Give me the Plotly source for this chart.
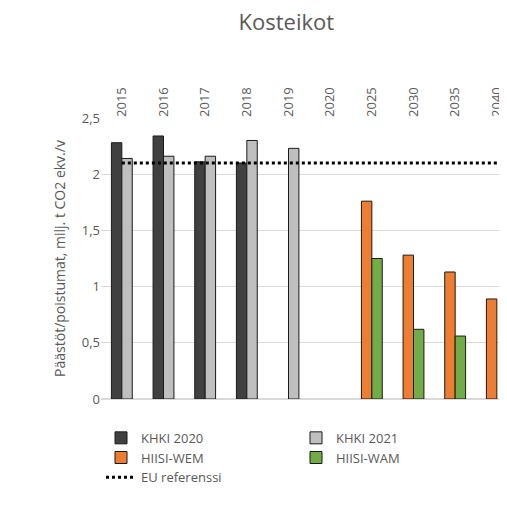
import plotly.graph_objects as go

years = ["2015","2016","2017","2018","2019","2020","2025","2030","2035","2040"]
khki2020 = [2.28, 2.34, 2.11, 2.10, None, None, None, None, None, None]
khki2021 = [2.14, 2.16, 2.16, 2.30, 2.23, None, None, None, None, None]
wem = [None, None, None, None, None, None, 1.76, 1.28, 1.13, 0.89]
wam = [None, None, None, None, None, None, 1.25, 0.62, 0.56, None]
eu_ref = [2.10]*10

fig = go.Figure()
line = dict(color="#1a1a1a", width=1)
fig.add_bar(x=years, y=khki2020, name="KHKI 2020", marker=dict(color="#404040", line=line), offsetgroup="a", legend="legend")
fig.add_bar(x=years, y=khki2021, name="KHKI 2021", marker=dict(color="#bfbfbf", line=line), offsetgroup="b", legend="legend")
fig.add_bar(x=years, y=wem, name="HIISI-WEM", marker=dict(color="#ed7d31", line=line), offsetgroup="a", legend="legend2")
fig.add_bar(x=years, y=wam, name="HIISI-WAM", marker=dict(color="#70ad47", line=line), offsetgroup="b", legend="legend2")
fig.add_scatter(x=years, y=eu_ref, mode="lines", name="EU referenssi", legend="legend3",
                line=dict(color="black", width=3, dash="dot"))

leg = dict(orientation="h", x=0.0, xanchor="left", yanchor="top",
           entrywidth=150, font=dict(size=13), traceorder="normal",
           bgcolor="rgba(0,0,0,0)", tracegroupgap=0)
fig.update_layout(
    width=497, height=515, barmode="group", bargap=0.5,
    margin=dict(l=93, r=0, t=110, b=124),
    paper_bgcolor="white", plot_bgcolor="white",
    font=dict(family="Open Sans", color="#595959", size=13),
    separators=", ",
    title=dict(text="Kosteikot", x=0.56, xanchor="center", y=0.972, yanchor="middle",
               font=dict(size=22, color="#595959")),
    xaxis=dict(type="category", side="top", tickangle=-90, range=[-0.5, 9.1],
               showgrid=False, showline=False, ticks="", tickfont=dict(size=13)),
    yaxis=dict(range=[0, 2.5], dtick=0.5, gridcolor="#d9d9d9", zeroline=True,
               zerolinecolor="#d9d9d9", tickformat=",.1~f", ticks="",
               title=dict(text="Päästöt/poistumat, milj. t CO2 ekv./v", font=dict(size=14), standoff=12)),
    legend=dict(leg, y=-0.085),
    legend2=dict(leg, y=-0.155),
    legend3=dict(leg, y=-0.225),
)
fig.write_html("out.html")
